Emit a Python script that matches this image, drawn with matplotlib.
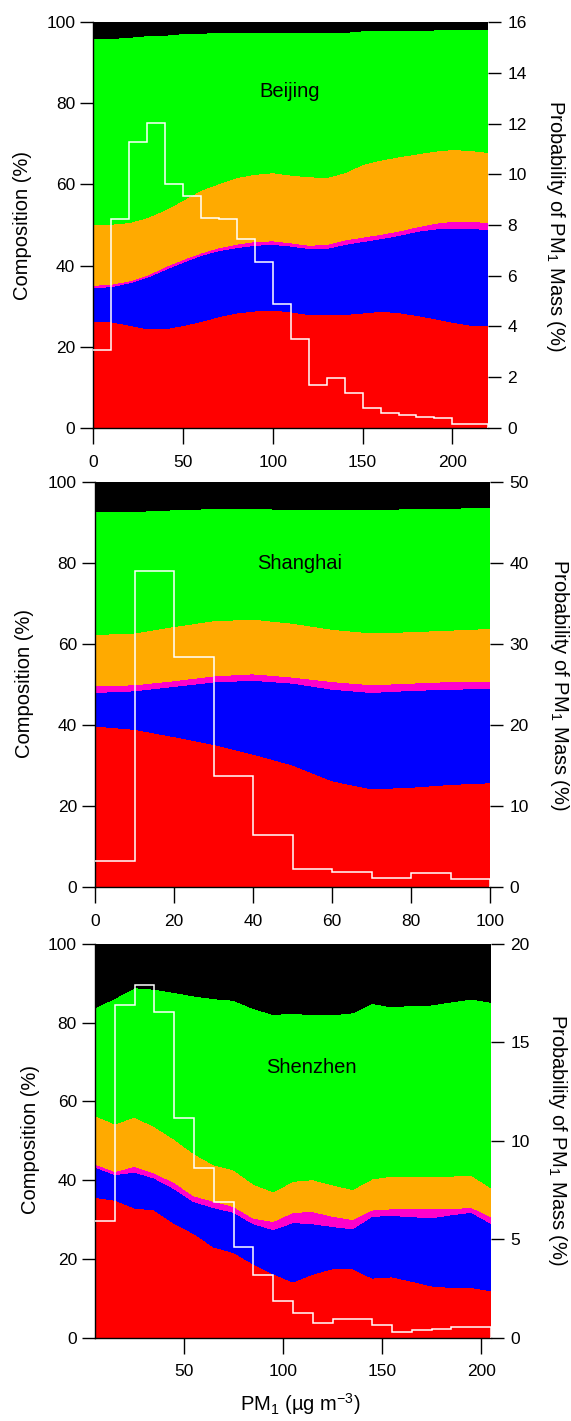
import numpy as np
import matplotlib
matplotlib.use("Agg")
import matplotlib.pyplot as plt

plt.rcParams['font.family'] = ['Liberation Sans', 'DejaVu Sans']
plt.rcParams['mathtext.fontset'] = 'custom'
plt.rcParams['mathtext.rm'] = 'Liberation Sans'
plt.rcParams['mathtext.it'] = 'Liberation Sans:italic'
plt.rcParams['mathtext.bf'] = 'Liberation Sans:bold'
plt.rcParams['mathtext.default'] = 'rm'

colors = ['#FF0000', '#0000FF', '#FF00CC', '#FFAA00', '#00FF00', '#000000']

# ---- Beijing ----
bj_x = np.arange(0, 230, 10)
bj_so4 = [26.3, 26.1, 25.3, 24.4, 24.4, 25.2, 26.2, 27.4, 28.3, 28.8, 29.0, 28.6, 27.9, 27.9, 27.9, 28.3, 28.7, 28.4, 27.7, 26.9, 26.0, 25.3, 25.1]
bj_no3 = [8.2, 8.7, 10.4, 12.7, 14.6, 15.6, 16.3, 16.3, 16.1, 16.2, 16.2, 16.2, 16.3, 16.3, 17.3, 17.6, 17.9, 19.0, 20.7, 22.1, 23.2, 23.9, 23.7]
bj_chl = [0.6, 0.6, 0.5, 0.5, 0.7, 0.7, 0.6, 0.7, 0.9, 0.9, 0.9, 0.8, 0.8, 1.0, 1.1, 1.1, 1.1, 1.1, 1.1, 1.4, 1.7, 1.7, 1.8]
bj_nh4 = [14.9, 14.8, 14.4, 14.2, 14.0, 14.6, 15.5, 15.8, 16.4, 16.6, 16.8, 16.7, 16.9, 16.5, 16.6, 17.9, 18.3, 18.3, 18.0, 17.8, 17.7, 17.5, 17.3]
bj_org = [45.9, 45.8, 45.7, 44.9, 43.1, 41.1, 38.7, 37.3, 35.8, 35.0, 34.6, 35.2, 35.6, 35.8, 34.6, 33.0, 31.9, 31.1, 30.5, 29.9, 29.6, 29.8, 30.3]
bj_bc = [4.1, 4.0, 3.7, 3.3, 3.2, 2.8, 2.7, 2.5, 2.5, 2.5, 2.5, 2.5, 2.5, 2.5, 2.5, 2.1, 2.1, 2.1, 2.0, 1.9, 1.8, 1.8, 1.8]
bj_edges = np.arange(0, 230, 10)
bj_prob = [3.05, 8.23, 11.27, 12.02, 9.6, 9.15, 8.28, 8.23, 7.43, 6.53, 4.87, 3.49, 1.69, 1.95, 1.37, 0.78, 0.57, 0.49, 0.43, 0.38, 0.13, 0.13]

# ---- Shanghai ----
sh_x = np.arange(0, 110, 10)
sh_so4 = [39.8, 39.0, 37.2, 35.3, 32.9, 30.2, 26.3, 24.3, 24.7, 25.4, 25.8]
sh_no3 = [8.3, 9.5, 12.4, 15.4, 18.2, 20.2, 22.6, 23.8, 23.9, 23.5, 23.3]
sh_chl = [1.6, 1.5, 1.4, 1.5, 1.6, 1.5, 1.9, 1.9, 1.8, 1.9, 1.7]
sh_nh4 = [12.7, 12.8, 13.4, 13.6, 13.5, 13.3, 12.9, 12.8, 12.7, 12.7, 13.1]
sh_org = [30.4, 30.0, 28.8, 27.7, 27.4, 28.0, 29.5, 30.4, 30.4, 30.1, 29.9]
sh_bc = [7.2, 7.2, 6.8, 6.5, 6.4, 6.8, 6.8, 6.8, 6.5, 6.4, 6.2]
sh_edges = np.arange(0, 110, 10)
sh_prob = [3.3, 39.1, 28.4, 13.7, 6.5, 2.2, 1.9, 1.2, 1.8, 1.0]

# ---- Shenzhen ----
sz_x = np.arange(5, 215, 10)
sz_so4 = [35.6, 34.9, 32.9, 32.4, 29.0, 26.4, 23.0, 21.6, 18.7, 16.2, 14.1, 16.1, 17.5, 17.5, 15.1, 15.4, 14.3, 13.1, 12.7, 12.7, 11.9]
sz_no3 = [7.7, 6.5, 9.1, 8.1, 8.8, 8.1, 10.0, 10.2, 10.2, 11.2, 15.1, 12.8, 10.7, 10.1, 15.7, 15.6, 16.4, 17.3, 18.5, 19.1, 17.1]
sz_chl = [0.8, 0.8, 1.5, 1.3, 1.6, 1.5, 1.6, 1.5, 1.4, 2.1, 2.6, 3.1, 2.6, 2.4, 1.6, 1.7, 2.0, 2.3, 1.5, 1.3, 1.7]
sz_nh4 = [12.3, 12.1, 12.5, 11.8, 11.0, 10.7, 9.3, 9.3, 8.7, 7.5, 7.9, 8.1, 8.0, 7.6, 7.9, 8.3, 8.3, 8.3, 8.3, 8.2, 7.3]
sz_org = [27.4, 31.9, 32.9, 34.9, 37.3, 40.1, 42.2, 43.1, 44.6, 45.1, 42.7, 41.9, 43.2, 44.9, 44.6, 43.0, 43.4, 43.5, 44.3, 44.7, 47.2]
sz_bc = [16.2, 13.8, 11.1, 11.5, 12.3, 13.2, 13.9, 14.3, 16.4, 17.9, 17.6, 18.0, 18.0, 17.5, 15.1, 16.0, 15.6, 15.5, 14.7, 14.0, 14.8]
sz_edges = np.arange(5, 215, 10)
sz_prob = [5.9, 16.9, 17.9, 16.55, 11.15, 8.6, 6.9, 4.6, 3.2, 1.87, 1.23, 0.73, 0.93, 0.93, 0.66, 0.27, 0.36, 0.44, 0.53, 0.53]

W, H = 571, 1421
fig = plt.figure(figsize=(W / 100, H / 100), dpi=100)

TICK_FS = 12.5
LAB_FS = 14.5


def px_rect(l, t, r, b):
    return [l / W, 1 - b / H, (r - l) / W, (b - t) / H]


def panel(rect, x, comps, edges, prob, xlim, xticks, pmax, pticks, city, cpos,
          ylab_xy, rlab_xy):
    ax = fig.add_axes(rect)
    ax.stackplot(x, *comps, colors=colors, linewidth=0, antialiased=False)
    ax.set_xlim(*xlim)
    ax.set_ylim(0, 100)
    ax.set_xticks(xticks)
    ax.set_yticks(range(0, 101, 20))
    for s in ['top', 'right']:
        ax.spines[s].set_visible(False)
    for s in ['left', 'bottom']:
        ax.spines[s].set_linewidth(1.0)
    ax.tick_params(axis='y', direction='out', length=9.5, width=1.0, pad=3.5,
                   labelsize=TICK_FS, right=False)
    ax.tick_params(axis='x', direction='out', length=11.3, width=1.0, pad=8,
                   labelsize=TICK_FS, top=False)

    ax2 = ax.twinx()
    ax2.stairs(prob, edges, baseline=None, color='white', linewidth=1.1)
    ax2.vlines(edges[-1], 0, prob[-1], color='white', linewidth=1.1)
    ax2.set_ylim(0, pmax)
    ax2.set_yticks(pticks)
    for s in ax2.spines.values():
        s.set_visible(False)
    ax2.tick_params(axis='y', direction='out', length=9.5, width=1.0, pad=4.3,
                    labelsize=TICK_FS)

    ax.text(cpos[0], cpos[1], city, transform=ax.transAxes, ha='center',
            va='center', fontsize=LAB_FS)
    fig.text(ylab_xy[0] / W, 1 - ylab_xy[1] / H, 'Composition (%)',
             rotation=90, ha='center', va='center', fontsize=LAB_FS)
    fig.text(rlab_xy[0] / W, 1 - rlab_xy[1] / H,
             'Probability of PM$_1$ Mass (%)', rotation=270, ha='center',
             va='center', fontsize=LAB_FS)
    return ax


panel(px_rect(93.3, 22.3, 488.3, 427.7), bj_x,
      [bj_so4, bj_no3, bj_chl, bj_nh4, bj_org, bj_bc], bj_edges, bj_prob,
      (0, 220), range(0, 201, 50), 16, range(0, 17, 2), 'Beijing',
      (0.498, 0.83), (23, 225), (555, 226))

panel(px_rect(95, 482.3, 490, 887.3), sh_x,
      [sh_so4, sh_no3, sh_chl, sh_nh4, sh_org, sh_bc], sh_edges, sh_prob,
      (0, 100), range(0, 101, 20), 50, range(0, 51, 10), 'Shanghai',
      (0.517, 0.80), (25, 684), (560, 685))

panel(px_rect(95, 944, 491, 1337.5), sz_x,
      [sz_so4, sz_no3, sz_chl, sz_nh4, sz_org, sz_bc], sz_edges, sz_prob,
      (5, 205), range(50, 201, 50), 20, range(0, 21, 5), 'Shenzhen',
      (0.547, 0.687), (31, 1140), (557, 1140))

fig.text(300 / W, 1 - 1404 / H, 'PM$_1$ (µg m$^{-3}$)', ha='center',
         va='center', fontsize=LAB_FS)

fig.savefig('out.png', dpi=100)
